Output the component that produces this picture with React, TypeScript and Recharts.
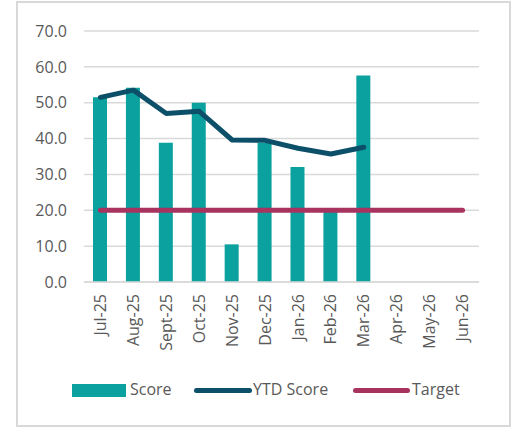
import React from 'react';
import {
  ComposedChart,
  Bar,
  Line,
  XAxis,
  YAxis,
  CartesianGrid,
  Legend,
} from 'recharts';

const months = [
  'Jul-25', 'Aug-25', 'Sept-25', 'Oct-25', 'Nov-25', 'Dec-25',
  'Jan-26', 'Feb-26', 'Mar-26', 'Apr-26', 'May-26', 'Jun-26',
];
const scores = [51.5, 54.2, 38.8, 50.0, 10.5, 38.8, 32.1, 19.5, 57.6, null, null, null];
const ytdScores = [51.5, 53.5, 47.0, 47.6, 39.6, 39.5, 37.3, 35.7, 37.6, null, null, null];
const targets = [20, 20, 20, 20, 20, 20, 20, 20, 20, 20, 20, 20];
const yTicks = [0, 10, 20, 30, 40, 50, 60, 70];

const TEAL = '#0aa19e';
const NAVY = '#0c4f68';
const BERRY = '#a8335f';
const TEXT = '#595959';
const GRID = '#d9d9d9';
const FONT = '"Open Sans", sans-serif';

const data = months.map((month, i) => ({
  month,
  score: scores[i],
  ytd: ytdScores[i],
  target: targets[i],
}));

const MonthTick = (props: any) => {
  const { x, y, payload } = props;
  return (
    <text
      transform={`translate(${x},${y + 12}) rotate(-90)`}
      textAnchor="end"
      dy="0.35em"
      fill={TEXT}
      fontSize={16}
      fontFamily={FONT}
    >
      {payload.value}
    </text>
  );
};

const ChartLegend = () => (
  <div style={{ position: 'relative', height: 70, fontFamily: FONT, fontSize: 16, color: TEXT }}>
    <div style={{ position: 'absolute', left: 72, top: 24, width: 54, height: 13, background: TEAL }} />
    <span style={{ position: 'absolute', left: 130, top: 18 }}>Score</span>
    <div style={{ position: 'absolute', left: 194, top: 28, width: 58, height: 5, borderRadius: 3, background: NAVY }} />
    <span style={{ position: 'absolute', left: 253, top: 18 }}>YTD Score</span>
    <div style={{ position: 'absolute', left: 353, top: 28, width: 57, height: 5, borderRadius: 3, background: BERRY }} />
    <span style={{ position: 'absolute', left: 412, top: 18 }}>Target</span>
  </div>
);

export default function App() {
  return (
    <div style={{ position: 'absolute', left: 0, top: 0, width: 517, height: 430, background: '#fff' }}>
      <div
        style={{
          position: 'absolute',
          left: 16,
          top: 1,
          width: 491,
          height: 422,
          border: `2px solid ${GRID}`,
        }}
      />
      <div style={{ position: 'absolute', left: 0, top: 0 }}>
        <ComposedChart
          width={517}
          height={430}
          data={data}
          margin={{ top: 31, right: 38, left: 0, bottom: 0 }}
        >
          <CartesianGrid vertical={false} stroke={GRID} strokeWidth={1.5} />
          <XAxis
            dataKey="month"
            interval={0}
            height={78}
            tickLine={false}
            tickSize={0}
            tickMargin={0}
            axisLine={{ stroke: GRID, strokeWidth: 1.5 }}
            tick={<MonthTick />}
          />
          <YAxis
            width={84}
            domain={[0, 70]}
            ticks={yTicks}
            interval={0}
            axisLine={false}
            tickLine={false}
            tickSize={0}
            tickMargin={17}
            tickFormatter={(v: number) => v.toFixed(1)}
            tick={{ fill: TEXT, fontSize: 16, fontFamily: FONT }}
          />
          <Legend verticalAlign="bottom" content={<ChartLegend />} />
          <Bar dataKey="score" name="Score" fill={TEAL} barSize={14} isAnimationActive={false} />
          <Line
            dataKey="ytd"
            name="YTD Score"
            stroke={NAVY}
            strokeWidth={5}
            strokeLinejoin="round"
            strokeLinecap="round"
            dot={false}
            type="linear"
            isAnimationActive={false}
          />
          <Line
            dataKey="target"
            name="Target"
            stroke={BERRY}
            strokeWidth={5}
            strokeLinecap="round"
            dot={false}
            type="linear"
            isAnimationActive={false}
          />
        </ComposedChart>
      </div>
    </div>
  );
}
